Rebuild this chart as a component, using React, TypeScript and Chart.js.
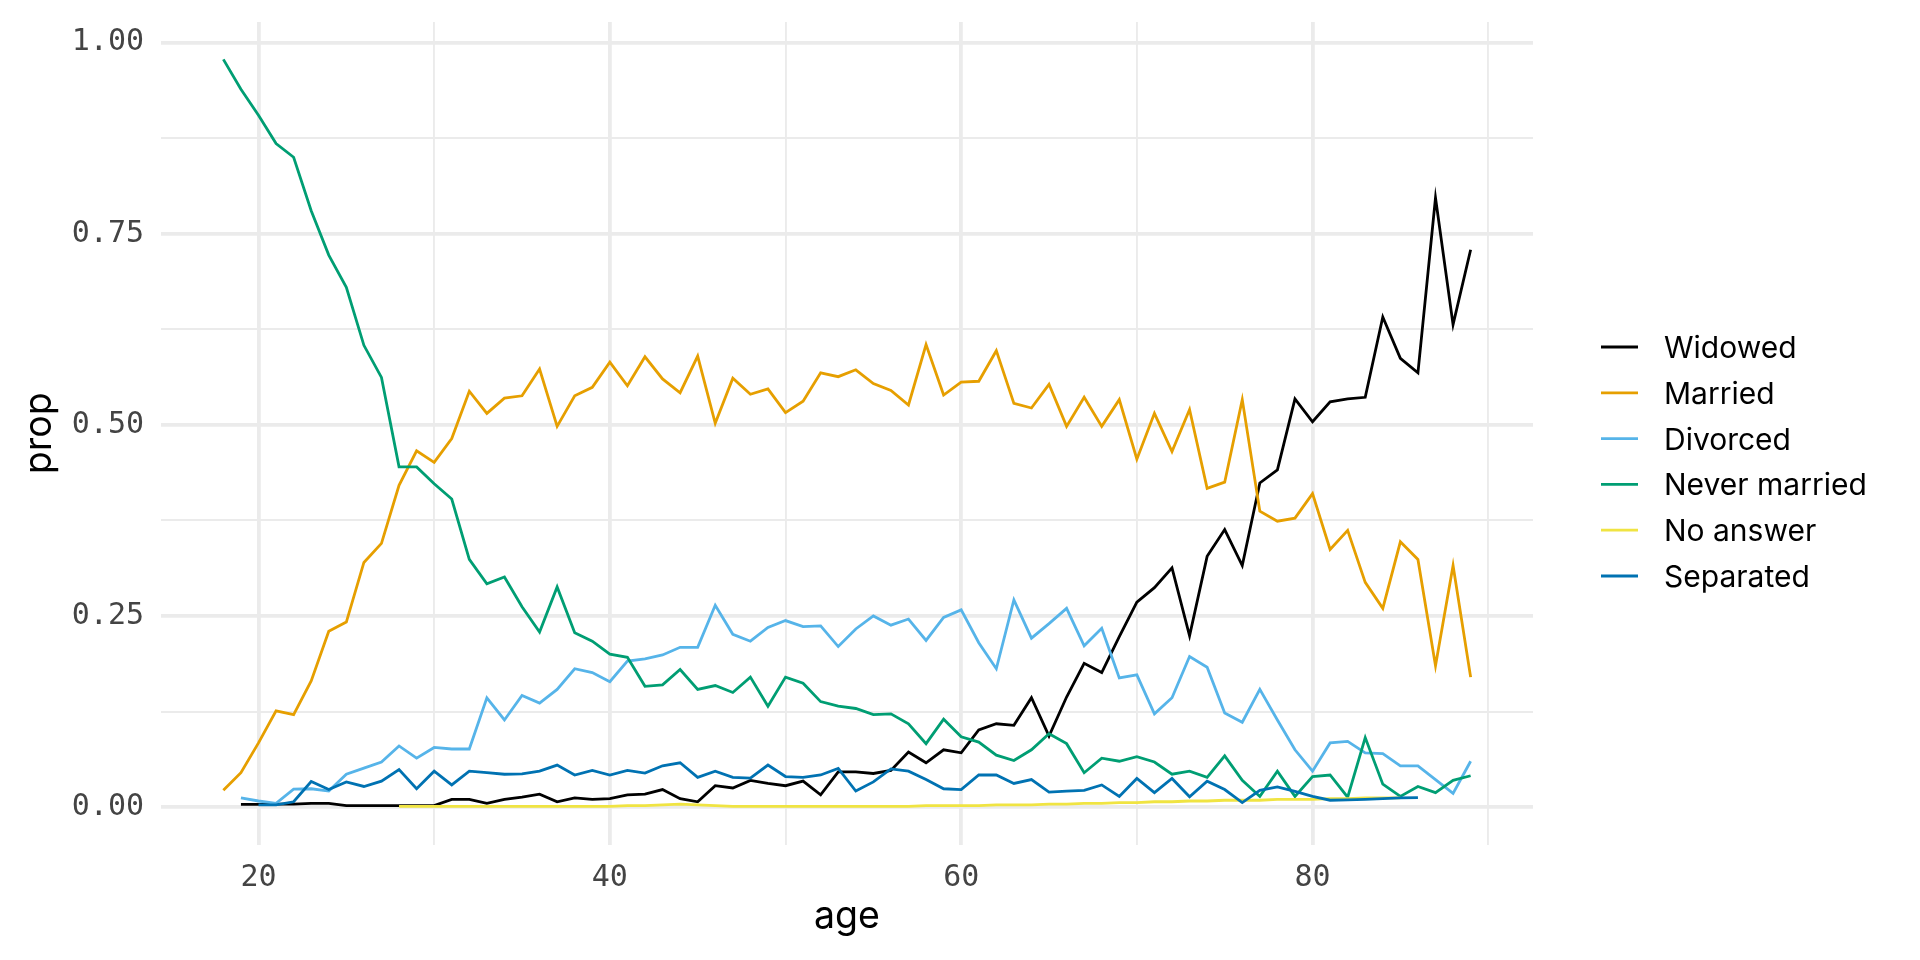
import React, { useEffect, useRef } from "react";
import { Chart, registerables } from "chart.js";

Chart.register(...registerables);

const ages = [
  18, 19, 20, 21, 22, 23, 24, 25, 26, 27, 28, 29, 30, 31, 32, 33, 34, 35, 36, 37, 38, 39, 40, 41,
  42, 43, 44, 45, 46, 47, 48, 49, 50, 51, 52, 53, 54, 55, 56, 57, 58, 59, 60, 61, 62, 63, 64, 65,
  66, 67, 68, 69, 70, 71, 72, 73, 74, 75, 76, 77, 78, 79, 80, 81, 82, 83, 84, 85, 86, 87, 88, 89,
];

const widowed = [
  null, 0.0035, 0.0035, 0.004, 0.004, 0.005, 0.005, 0.002, 0.002, 0.002, 0.002, null, 0.002, 0.01, 0.01, 0.005, 0.01, 0.013, 0.017, 0.007, 0.012, 0.01, 0.011, 0.016,
  0.017, 0.023, 0.011, 0.007, 0.028, 0.025, 0.035, 0.031, 0.028, 0.034, 0.016, 0.046, 0.046, 0.044, 0.048, 0.072, 0.058, 0.075, 0.071, 0.101, 0.109, 0.107, 0.143, 0.093,
  0.144, 0.188, 0.176, 0.223, 0.268, 0.287, 0.313, 0.224, 0.328, 0.363, 0.316, 0.424, 0.441, 0.534, 0.504, 0.53, 0.534, 0.536, 0.641, 0.587, 0.568, 0.797, 0.631, 0.729,
];

const married = [
  0.022, 0.045, 0.084, 0.126, 0.121, 0.165, 0.23, 0.242, 0.32, 0.345, 0.421, 0.466, 0.451, 0.482, 0.544, 0.515, 0.535, 0.538, 0.573, 0.498, 0.538, 0.549, 0.582, 0.551,
  0.589, 0.56, 0.542, 0.59, 0.502, 0.561, 0.54, 0.547, 0.516, 0.531, 0.568, 0.563, 0.572, 0.554, 0.545, 0.526, 0.605, 0.539, 0.556, 0.557, 0.597, 0.528, 0.522, 0.553,
  0.498, 0.536, 0.498, 0.533, 0.455, 0.515, 0.465, 0.52, 0.417, 0.425, 0.533, 0.387, 0.374, 0.378, 0.41, 0.337, 0.362, 0.294, 0.26, 0.347, 0.324, 0.185, 0.316, 0.17,
];

const divorced = [
  null, 0.012, 0.008, 0.005, 0.0235, 0.024, 0.021, 0.043, 0.051, 0.059, 0.08, 0.064, 0.078, 0.076, 0.076, 0.143, 0.114, 0.146, 0.136, 0.154, 0.181, 0.176, 0.164, 0.191,
  0.194, 0.199, 0.209, 0.209, 0.264, 0.226, 0.217, 0.235, 0.244, 0.236, 0.237, 0.21, 0.233, 0.25, 0.238, 0.246, 0.218, 0.248, 0.258, 0.215, 0.181, 0.271, 0.221, 0.24,
  0.26, 0.211, 0.234, 0.169, 0.173, 0.122, 0.143, 0.197, 0.183, 0.123, 0.111, 0.154, 0.114, 0.075, 0.047, 0.084, 0.086, 0.071, 0.07, 0.054, 0.054, 0.036, 0.018, 0.06,
];

const neverMarried = [
  0.978, 0.939, 0.905, 0.868, 0.85, 0.78, 0.722, 0.68, 0.604, 0.562, 0.445, 0.445, 0.423, 0.403, 0.324, 0.292, 0.301, 0.262, 0.229, 0.288, 0.228, 0.217, 0.2, 0.196,
  0.158, 0.16, 0.18, 0.154, 0.159, 0.15, 0.17, 0.132, 0.17, 0.162, 0.138, 0.132, 0.129, 0.121, 0.122, 0.109, 0.083, 0.115, 0.092, 0.085, 0.068, 0.061, 0.075, 0.096,
  0.083, 0.045, 0.064, 0.06, 0.066, 0.059, 0.043, 0.047, 0.039, 0.067, 0.035, 0.014, 0.047, 0.014, 0.04, 0.042, 0.013, 0.091, 0.03, 0.014, 0.027, 0.019, 0.035, 0.041,
];

const noAnswer = [
  null, null, null, null, null, null, null, null, null, null, 0.001, 0.001, 0.001, 0.001, 0.001, 0.001, 0.001, 0.001, 0.001, 0.001, 0.001, 0.001, 0.001, 0.002,
  0.002, 0.003, 0.004, 0.003, 0.002, 0.001, 0.001, 0.001, 0.001, 0.001, 0.001, 0.001, 0.001, 0.001, 0.001, 0.001, 0.002, 0.002, 0.002, 0.002, 0.003, 0.003, 0.003, 0.004,
  0.004, 0.005, 0.005, 0.006, 0.006, 0.007, 0.007, 0.008, 0.008, 0.009, 0.009, 0.009, 0.01, 0.01, 0.01, 0.011, 0.011, 0.012, 0.012, 0.012, null, null, null, null,
];

const separated = [
  null, null, 0.003, 0.003, 0.007, 0.0335, 0.023, 0.033, 0.027, 0.034, 0.049, 0.024, 0.047, 0.029, 0.047, 0.045, 0.043, 0.0435, 0.047, 0.055, 0.042, 0.048, 0.042, 0.048,
  0.0445, 0.054, 0.058, 0.039, 0.047, 0.039, 0.038, 0.055, 0.04, 0.039, 0.042, 0.0505, 0.021, 0.033, 0.05, 0.047, 0.036, 0.024, 0.023, 0.042, 0.042, 0.031, 0.036, 0.0196,
  0.021, 0.022, 0.029, 0.014, 0.0375, 0.019, 0.0375, 0.0135, 0.034, 0.023, 0.006, 0.022, 0.0265, 0.0205, 0.014, 0.009, 0.0095, 0.01, 0.011, 0.012, 0.0125, null, null, null,
];

const seriesNames = ["Widowed", "Married", "Divorced", "Never married", "No answer", "Separated"];
const seriesColors = ["#000000", "#E69F00", "#56B4E9", "#009E73", "#F0E442", "#0072B2"];

const xTicks = [20, 30, 40, 50, 60, 70, 80, 90];
const xTickLabels = ["20", "", "40", "", "60", "", "80", ""];
const yTicks = [0, 0.125, 0.25, 0.375, 0.5, 0.625, 0.75, 0.875, 1.0];
const yTickLabels = ["0.00", "", "0.25", "", "0.50", "", "0.75", "", "1.00"];

const GRID = "#EBEBEB";

const legendPlugin = {
  id: "sideLegend",
  afterDraw(chart: any) {
    const { ctx, chartArea } = chart;
    const keyX0 = chartArea.right + 68;
    const keyX1 = chartArea.right + 105;
    const textX = chartArea.right + 131;
    const firstY = 347;
    const step = 45.8;
    ctx.save();
    ctx.font = "30px Inter";
    ctx.textAlign = "left";
    ctx.textBaseline = "alphabetic";
    chart.data.datasets.forEach((ds: any, i: number) => {
      const y = firstY + i * step;
      ctx.strokeStyle = ds.borderColor;
      ctx.lineWidth = 2.8;
      ctx.beginPath();
      ctx.moveTo(keyX0, y);
      ctx.lineTo(keyX1, y);
      ctx.stroke();
      ctx.fillStyle = "#000000";
      ctx.fillText(ds.label, textX, y + 11);
    });
    ctx.restore();
  },
};

export default function App() {
  const canvasRef = useRef<HTMLCanvasElement | null>(null);

  useEffect(() => {
    if (!canvasRef.current) return;
    const seriesValues = [widowed, married, divorced, neverMarried, noAnswer, separated];
    const datasets = seriesNames.map((name, i) => ({
      label: name,
      data: ages
        .map((a, j) => ({ x: a, y: seriesValues[i][j] as number | null }))
        .filter((p) => p.y !== null),
      borderColor: seriesColors[i],
      backgroundColor: seriesColors[i],
      borderWidth: 2.8,
      pointRadius: 0,
      pointHoverRadius: 0,
      tension: 0,
      fill: false,
      order: seriesNames.length - i,
    }));

    const chart = new Chart(canvasRef.current, {
      type: "line",
      data: { datasets },
      plugins: [legendPlugin],
      options: {
        animation: false,
        responsive: false,
        devicePixelRatio: 1,
        layout: { padding: { left: 0, right: 387, top: 22, bottom: 0 } },
        plugins: { legend: { display: false }, tooltip: { enabled: false } },
        scales: {
          x: {
            type: "linear",
            min: 14.45,
            max: 92.55,
            afterBuildTicks: (axis: any) => {
              axis.ticks = xTicks.map((v) => ({ value: v }));
            },
            afterFit: (scale: any) => {
              scale.height = 115.5;
              scale.paddingLeft = 0;
              scale.paddingRight = 0;
            },
            border: { display: false },
            grid: {
              color: GRID,
              drawTicks: false,
              lineWidth: (c: any) => (c.tick && c.tick.value % 20 === 0 ? 3.8 : 1.9),
            },
            ticks: {
              autoSkip: false,
              maxRotation: 0,
              padding: 16,
              color: "#444444",
              font: { family: "DejaVu Sans Mono", size: 30 },
              callback: (_v: any, i: number) => xTickLabels[i],
            },
            title: {
              display: true,
              text: "age",
              color: "#000000",
              font: { family: "Inter", size: 37.5 },
              padding: { top: 0, bottom: 21 },
            },
          },
          y: {
            type: "linear",
            min: -0.0489,
            max: 1.0269,
            afterBuildTicks: (axis: any) => {
              axis.ticks = yTicks.map((v) => ({ value: v }));
            },
            afterFit: (scale: any) => {
              scale.width = 161;
              scale.paddingTop = 0;
              scale.paddingBottom = 0;
            },
            border: { display: false },
            grid: {
              color: GRID,
              drawTicks: false,
              lineWidth: (c: any) =>
                c.tick && Math.abs(c.tick.value * 4 - Math.round(c.tick.value * 4)) < 1e-6 ? 3.8 : 1.9,
            },
            ticks: {
              autoSkip: false,
              padding: 17,
              color: "#444444",
              font: { family: "DejaVu Sans Mono", size: 30 },
              callback: (_v: any, i: number) => yTickLabels[i],
            },
            title: {
              display: true,
              text: "prop",
              color: "#000000",
              font: { family: "Inter", size: 37.5 },
              padding: { top: 17, bottom: 0 },
            },
          },
        },
      },
    });
    return () => chart.destroy();
  }, []);

  return (
    <div style={{ position: "fixed", left: 0, top: 0, width: 1920, height: 960, background: "#ffffff" }}>
      <canvas ref={canvasRef} width={1920} height={960} style={{ display: "block" }} />
    </div>
  );
}
